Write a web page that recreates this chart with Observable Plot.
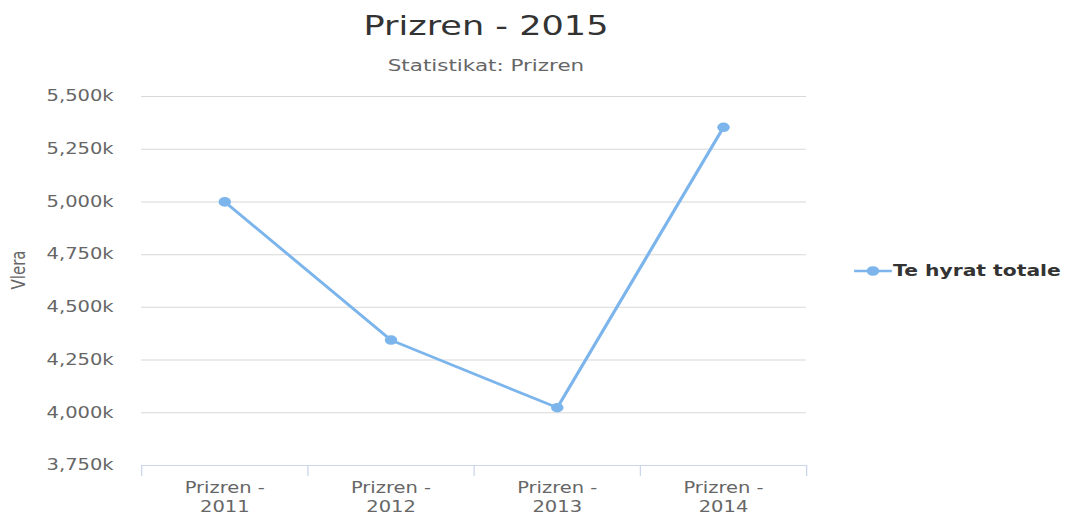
<!DOCTYPE html>
<html><head><meta charset="utf-8">
<script src="https://cdn.jsdelivr.net/npm/d3@7"></script>
<script src="https://cdn.jsdelivr.net/npm/@observablehq/plot@0.6"></script>
<style>
html,body{margin:0;padding:0;background:#fff;overflow:hidden}
#wrap{position:relative;width:819.23px;height:514px;transform:scaleX(1.3);transform-origin:0 0;font-family:"DejaVu Sans",sans-serif}
#wrap svg.plot{position:absolute;left:0;top:0}
.abs{position:absolute;white-space:nowrap}
#title{left:0;width:747.7px;top:12px;text-align:center;font-size:27px;line-height:27px;color:#333}
#subtitle{left:0;width:747.7px;top:58px;text-align:center;font-size:16.5px;line-height:16.5px;color:#666}
#ylabel{left:14.6px;top:270px;font-size:15px;line-height:15px;color:#666;transform:translate(-50%,-50%) rotate(-90deg)}
#legend{left:656px;top:261px;height:20px;display:flex;align-items:center;font-weight:bold;font-size:15.6px;color:#333}
</style></head>
<body>
<div id="wrap">
  <div id="chart"></div>
  <div class="abs" id="title"></div>
  <div class="abs" id="subtitle"></div>
  <div class="abs" id="ylabel"></div>
  <div class="abs" id="legend"></div>
</div>
<script>
const titleText = "Prizren - 2015";
const subtitleText = "Statistikat: Prizren";
const yTitle = "Vlera";
const seriesName = "Te hyrat totale";
const categories = ["Prizren - 2011", "Prizren - 2012", "Prizren - 2013", "Prizren - 2014"];
const xTickLabels = ["Prizren -\n2011", "Prizren -\n2012", "Prizren -\n2013", "Prizren -\n2014"];
const values = [5000, 4345, 4024, 5354]; // in thousands
const yTicks = [3750, 4000, 4250, 4500, 4750, 5000, 5250, 5500];
const color = "#7cb5ec";

document.getElementById("title").textContent = titleText;
document.getElementById("subtitle").textContent = subtitleText;
document.getElementById("ylabel").textContent = yTitle;
const leg = document.getElementById("legend");
leg.innerHTML = `<svg width="31" height="20" style="margin-right:0px"><line x1="1" x2="30" y1="10" y2="10" stroke="${color}" stroke-width="2.4"/><circle cx="15.5" cy="10" r="4.8" fill="${color}"/></svg><span></span>`;
leg.querySelector("span").textContent = seriesName;

const S = 1.3;
const W = 1065 / S;
const data = categories.map((c, i) => ({i, c, v: values[i]}));
const boundaries = d3.range(categories.length + 1).map(k => k - 0.5);
const fmt = d3.format(",");

const chart = Plot.plot({
  width: W, height: 514,
  marginLeft: 141 / S, marginRight: W - 806 / S, marginTop: 96, marginBottom: 49,
  style: {fontFamily: "DejaVu Sans", fontSize: "15px", color: "#666", background: "transparent", overflow: "visible"},
  x: {type: "linear", domain: [-0.5, categories.length - 0.5], axis: null},
  y: {domain: [yTicks[0], yTicks[yTicks.length - 1]], axis: null},
  marks: [
    Plot.ruleY(yTicks.slice(1), {stroke: "#d8d8d8", strokeWidth: 1}),
    Plot.ruleY([yTicks[0]], {stroke: "#ccd6eb", strokeWidth: 1}),
    Plot.axisX(boundaries, {tickSize: 11, stroke: "#ccd6eb", tickFormat: () => "", label: null}),
    Plot.axisX(d3.range(categories.length), {tickSize: 0, tickPadding: 14.5, fontSize: 15, lineHeight: 1.25, tickFormat: i => xTickLabels[i], label: null}),
    Plot.axisY(yTicks, {tickSize: 0, tickPadding: 141 / S - 113 / S, fontSize: 15, tickFormat: v => fmt(v) + "k", label: null}),
    Plot.line(data, {x: "i", y: "v", stroke: color, strokeWidth: 2.6}),
    Plot.dot(data, {x: "i", y: "v", r: 4.8, fill: color, stroke: "none"})
  ]
});
document.getElementById("chart").appendChild(chart);
</script>
</body></html>
